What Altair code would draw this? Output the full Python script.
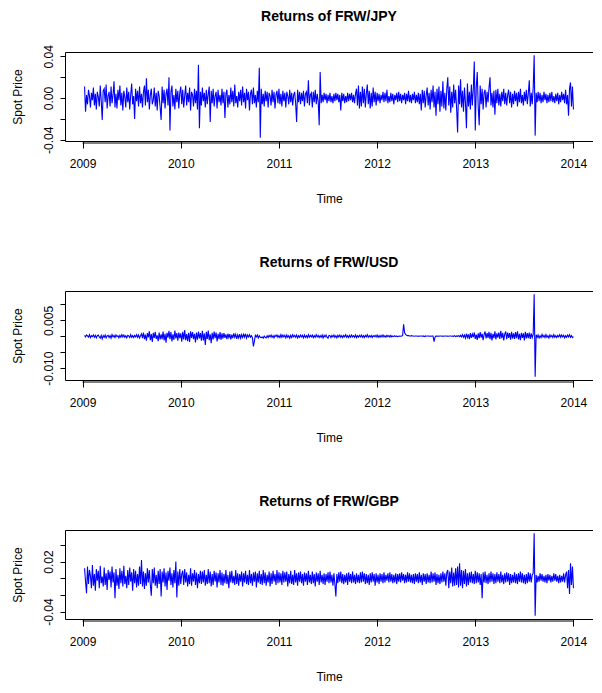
import altair as alt
import pandas as pd

# Time axis of the daily series (ts start and step, in years)
START = 2009.02
STEP = 0.01

# Returns of FRW/JPY, in units of 0.001
jpy = [11, -13, 3, -6, 8, 2, -9, 5, -2, 10, -7, 4, -11, 6, 1, -8, 12, -3, -21, 7,
       9, -4, 13, -10, 2, 6, -8, 11, -5, 3, 16, -9, 4, -10, 8, -2, 12, -7, 5, -12,
       7, 1, -9, 10, -4, 6, -11, 3, 14, -6, 2, -20, 9, -3, 7, -8, 11, -5, 4, -9,
       6, 12, -7, 19, -4, 8, -11, 3, 9, -6, -2, 10, -8, 5, -12, 7, 2, -9, -21, 11,
       -5, 8, -10, 4, 9, -7, 20, -31, 6, 12, -8, 3, -11, 9, -4, 7, -10, 5, 11, -6,
       8, -9, 2, 12, -7, 5, -4, 10, -12, 6, 3, -8, 9, -5, 7, -11, 32, -29, 6, -7,
       10, -3, 5, -9, 8, -6, 4, 11, -23, 7, -5, 9, -8, 2, 6, -10, 8, -4, 3, -7,
       9, -5, 6, -19, 4, 8, -9, 3, -6, 10, -4, 7, -8, 13, -5, 2, -9, 6, -3, 8,
       -7, 11, -4, 5, -10, 9, -2, 6, -12, 4, 8, -6, 10, -5, 3, -9, 7, -4, 29, -38,
       9, -6, 4, -8, 7, -3, 6, -9, 5, 2, -7, 8, -4, 6, -10, 3, 7, -5, 9, -6,
       4, -8, 7, -3, 5, -9, 6, 2, -6, 8, -4, 5, -7, 3, 6, -5, -23, 8, -4, 6,
       -6, 5, -3, 7, -8, 4, 6, -5, 17, -7, 3, 5, -9, 6, -4, 8, -6, 4, -3, -26,
       25, -5, 3, -4, 5, -2, 4, -5, 3, -3, 5, -4, 2, -5, 4, -3, 5, -2, 4, -4,
       3, -12, 5, -3, 4, -5, 2, -4, 5, -3, 4, -2, 5, -4, 3, -5, 4, 9, -7, 12,
       -10, 6, -8, 11, -5, 9, -9, 4, 13, -6, 7, -10, 5, -8, 10, -4, 6, -7, 5, -3,
       4, -5, 3, -2, 6, -4, 5, -3, 8, -5, 2, -4, 5, -3, 4, -6, 3, -2, 5, -4,
       6, -3, 4, -5, 3, -2, 5, -6, 4, -3, 7, -4, 3, -5, 4, -2, 6, -5, 3, -4,
       5, -6, 4, -12, 8, -5, 7, -9, 3, 10, -7, 5, -11, 8, -4, 12, -9, 6, -17, 9,
       -6, 11, -13, 7, -8, 16, -10, 5, -12, 9, 20, -7, 11, -14, 6, -9, 13, -5, 8, -10,
       -33, 12, -6, 18, -9, 7, -13, 10, -4, -29, 14, -8, 6, -11, 13, -7, 9, 35, -31, 10,
       25, -8, -26, 12, -6, 9, -11, 5, 8, -9, 6, -4, 10, 20, -7, 5, -9, 7, -16, 8,
       -5, 9, -7, 4, -8, 6, -3, 9, -6, 5, -7, 3, 8, -5, 6, -9, 4, -6, 7, -3,
       5, -8, 6, -4, 9, -5, 3, -7, 6, -3, 8, -6, 4, 17, -8, 5, -6, 10, 41, -36,
       5, -4, 6, -3, 5, -5, 3, -4, 6, -2, 4, -5, 3, -4, 5, -3, 6, -4, 2, -5,
       4, -3, 5, -6, 3, -4, 6, -2, 4, -5, 8, -6, 3, -17, 9, 15, -8, 11, -11]

# Returns of FRW/USD, in units of 0.0001
usd = [3, -2, 4, 1, -3, 5, -4, 2, -1, 4, -3, 3, -5, 2, 4, -2, -6, 3, -8, 2,
       -3, 4, -5, 1, 3, -4, 2, -6, 5, -2, 3, -4, 4, -1, 2, -5, 3, -3, 5, -2,
       4, -3, 2, -5, 3, 1, -4, 5, -3, 2, -4, 3, -2, 5, -3, 4, -5, 2, 8, -6,
       12, -9, 5, -14, 10, -3, 16, -12, 7, -18, 11, -5, 14, -8, 3, -15, 12, -10, 6, -9,
       15, -13, 8, -20, 11, -4, 17, -9, 13, -16, 6, -11, 18, -7, 10, -14, 12, -6, 9, -17,
       14, -10, 20, -12, 7, -15, 11, -18, 16, -5, 13, -9, 8, -19, 12, -11, 15, -7, 10, -14,
       17, -13, 9, -27, 14, -8, 18, -12, 6, -22, 11, -10, 15, -6, 12, -16, 8, -9, 13, -11,
       9, -7, 10, -5, 6, -9, 8, -4, 7, -10, 5, -6, 9, -3, 6, -8, 4, -5, 7, -6,
       5, -4, 6, -3, 8, -6, 4, -2, 5, -3, 2, -4, -32, -15, 3, -2, 4, -5, 2, -3,
       -4, -2, -6, 1, -3, -5, 2, -4, 3, -2, 4, -3, 2, -5, 3, -1, 4, -3, 2, -4,
       5, -3, 4, -2, 3, -5, 4, -3, 2, -6, 3, -4, 5, -2, 3, -3, 4, -5, 2, -3,
       4, -2, 3, -5, 4, -3, 2, -4, 5, -3, 3, -2, 4, -4, 2, -3, 5, -2, 3, -4,
       2, -3, 4, -5, 3, -2, 4, -3, -6, 3, 2, -4, 3, -2, 4, -3, 2, -5, 3, -2,
       4, -3, 2, -4, 3, -2, 5, -3, 2, -4, 3, -3, 4, -2, 2, -3, 4, -4, 2, -3,
       3, -2, 4, -3, 2, -4, 3, -2, 5, -3, 2, -2, 3, -4, 2, -1, 3, -2, 4, -3,
       2, -3, 3, -2, 4, -2, 2, -3, 3, -1, 2, -2, 3, -2, 1, -1, 2, -1, 1, -1,
       0, 1, 0, 1, 2, 38, 12, 6, 3, 2, 2, 1, 1, 2, 1, 1, 0, 1, 1, 0,
       1, 0, 1, 1, 0, 1, -1, 1, 0, 1, 1, 0, 1, 0, 1, 1, -17, -3, 1, 0,
       1, 0, 1, 1, 0, 1, 0, 1, 1, 0, 1, 0, 1, 1, 0, 1, 0, 2, -1, 1,
       0, 2, -1, 3, -2, 5, -3, 4, -6, 8, -4, 6, -9, 10, -5, 7, -3, 12, -8, 5,
       -11, 9, -6, 13, -4, 8, -12, 6, 15, -7, 10, -5, 14, -9, 11, -13, 8, -6, 16, -10,
       9, -4, 12, -8, 17, -6, 11, -13, 7, 15, -9, 12, -5, 10, -11, 14, -7, 9, -8, 13,
       -6, 16, -10, 8, -12, 11, -5, 9, -13, 14, -7, 10, -6, 12, -8, 9, -4, 6, 132, -127,
       5, -3, 4, -5, 2, -4, 6, -2, 3, -4, 5, -3, 2, -5, 4, -2, 3, -4, 5, -3,
       2, -4, 3, -2, 5, -3, 4, -2, 3, -5, 2, -3, 4, -2, 5, -3, 2, -4, -1]

# Returns of FRW/GBP, in units of 0.001
gbp = [12, -4, -18, 14, -7, 10, 3, -12, 16, -9, 5, -15, 11, -3, 9, -12, 15, -6, 2, -10,
       13, -8, 6, -14, 10, -2, 8, -11, 14, -5, 7, -24, 11, -9, 4, -13, 12, -6, 9, -10,
       15, -7, 3, -12, 10, -8, 13, -4, 7, -15, 11, -6, 9, -11, 5, -9, 14, -7, 22, -10,
       8, -13, 6, -9, 12, -5, 10, -8, -21, 11, -6, 13, -9, 4, -12, 9, -7, 11, -22, 8,
       -5, 12, -10, 7, -14, 9, -3, 13, -8, 6, -11, 10, -6, 20, -23, 8, -9, 11, -7, 5,
       9, -8, 11, -5, 7, -10, 4, -7, 12, -9, 6, -4, 10, -8, 7, -12, 5, -6, 9, -7,
       8, -5, 10, -9, 4, -7, 11, -6, 8, -10, 5, -8, 9, -4, 7, -11, 6, -5, 10, -8,
       7, -9, 5, -6, 10, -7, 4, -12, 8, -5, 9, -6, 3, -8, 10, -7, 6, -9, 5, -4,
       8, -10, 6, -5, 9, -7, 4, -8, 10, -6, 5, -9, 7, -4, 8, -11, 6, -5, 9, -7,
       5, -8, 10, -6, 7, -9, 4, -5, 8, -10, 6, -7, 9, -4, 5, -8, 10, -6, 7, -5,
       6, -8, 9, -5, 7, -4, 8, -10, 5, -6, 9, -7, 4, -8, 10, -5, 6, -9, 7, -4,
       8, -6, 5, -9, 7, -4, 6, -8, 9, -5, 4, -7, 8, -6, 5, -10, 7, -4, 6, -8,
       9, -5, 4, -7, 6, -8, 5, -4, 7, -6, 8, -5, 4, -9, 6, -7, -22, 5, -6, 7,
       -4, 8, -6, 5, -7, 4, -5, 6, -8, 7, -4, 5, -6, 8, -5, 4, -7, 6, -5, 4,
       -6, 7, -5, 8, -4, 6, -7, 5, -6, 4, -8, 6, -5, 7, -4, 5, -9, 6, -5, 4,
       -7, 6, -4, 5, -6, 7, -5, 4, -3, 6, -5, 7, -4, 5, -6, 4, -5, 6, -7, 5,
       -4, 6, -5, 7, -3, 5, -6, 4, -5, 7, -4, 6, -5, 4, -6, 5, -7, 6, -4, 5,
       -6, 7, -5, 4, -8, 6, -4, 5, -7, 6, -5, 4, -6, 8, -5, 6, -4, 7, -8, 5,
       -6, 4, -7, 6, -5, 8, -4, 6, -9, 7, 10, -12, 8, -6, 13, -10, 7, -9, 12, -8,
       14, -11, 18, -9, 10, -12, 9, -7, 11, -10, 6, -8, 7, -5, 8, -6, 5, -7, 9, -6,
       7, -5, 6, -8, 5, -24, 7, -5, 8, -6, 4, -7, 6, -5, 8, -4, 6, -7, 5, -6,
       7, -4, 5, -6, 8, -5, 4, -7, 6, -5, 7, -4, 6, -8, 5, -6, 4, -5, 7, -6,
       5, -7, 6, -4, 8, -5, 6, -6, 4, -7, 5, -6, 7, -4, 6, -5, 4, 6, 54, -45,
       4, -5, 3, -4, 6, -3, 5, -4, 3, -5, 4, -6, 5, -3, 4, -5, 3, -4, 6, -3,
       5, -4, 3, -6, 4, -5, 3, -4, 6, -5, 4, 8, -12, 10, -19, 18, -8, 14, -12]

YEAR_TICKS = [2009, 2010, 2011, 2012, 2013, 2014]

PANELS = [
    ("Returns of FRW/JPY", jpy, 0.001, [-0.04, -0.02, 0.0, 0.02, 0.04], [-0.04, 0.0, 0.04], ".2f"),
    ("Returns of FRW/USD", usd, 0.0001, [-0.010, -0.005, 0.0, 0.005, 0.010], [-0.010, 0.005], ".3f"),
    ("Returns of FRW/GBP", gbp, 0.001, [-0.04, -0.02, 0.0, 0.02, 0.04], [-0.04, 0.02], ".2f"),
]

W = 528
H = 89
FONT = "Liberation Sans"
BLUE = "#0000FF"


def panel(title, values, unit, ticks, shown, fmt):
    t = [START + STEP * i for i in range(len(values))]
    v = [x * unit for x in values]
    df = pd.DataFrame({"t": t, "v": v})
    vr = max(v) - min(v)
    ydom = [min(v) - 0.04 * vr, max(v) + 0.04 * vr]
    tr = max(t) - min(t)
    xdom = [min(t) - 0.04 * tr, max(t) + 0.04 * tr]
    # keep only the tick labels that R did not drop for overlap
    cond = " || ".join(f"abs(datum.value - ({s})) < 1e-9" for s in shown)
    label_expr = f"({cond}) ? replace(format(datum.value, '{fmt}'), '\u2212', '-') : ''"

    xscale = alt.Scale(domain=xdom, nice=False, zero=False)
    x = alt.X("t:Q", scale=xscale,
              axis=alt.Axis(values=YEAR_TICKS, format="d", title="Time", domain=True,
                            domainColor="black", grid=False, tickSize=7, labelPadding=10,
                            titlePadding=24))
    y = alt.Y("v:Q", scale=alt.Scale(domain=ydom, nice=False, zero=False),
              axis=alt.Axis(values=ticks, labelExpr=label_expr, title="Spot Price",
                            domain=True, domainColor="black", grid=False, tickSize=5,
                            labelAngle=-90, labelAlign="center", labelBaseline="bottom",
                            labelPadding=5, titlePadding=18))
    line = alt.Chart(df).mark_line(color=BLUE, strokeWidth=1.1, clip=True).encode(x=x, y=y)
    # R draws its axis line only from the first to the last tick; its top axis gives the box top
    axis_line = alt.Chart(pd.DataFrame({"a": [YEAR_TICKS[0]], "b": [YEAR_TICKS[-1]]})).mark_rule(
        color="black", strokeWidth=1).encode(
        x=alt.X("a:Q", scale=xscale,
                axis=alt.Axis(orient="top", domain=True, domainColor="black", ticks=False,
                              labels=False, grid=False, title=None)),
        x2="b:Q", y=alt.value(H + 2))
    return alt.layer(line, axis_line).resolve_axis(x="independent").properties(
        width=W, height=H,
        title=alt.TitleParams(title, fontSize=14, fontWeight="bold", font=FONT,
                              anchor="middle", offset=21, color="black"))


chart = alt.vconcat(*[panel(*p) for p in PANELS], spacing=52).properties(
    padding={"left": 3, "top": 1, "right": 0, "bottom": 0}
).configure_view(stroke=None).configure_axis(
    labelFont=FONT, titleFont=FONT, labelFontSize=12, titleFontSize=12,
    labelColor="black", titleColor="black", tickColor="black", titleFontWeight="normal"
).configure_concat(spacing=52)

chart.save("out.html", embed_options={"renderer": "svg", "actions": False})
